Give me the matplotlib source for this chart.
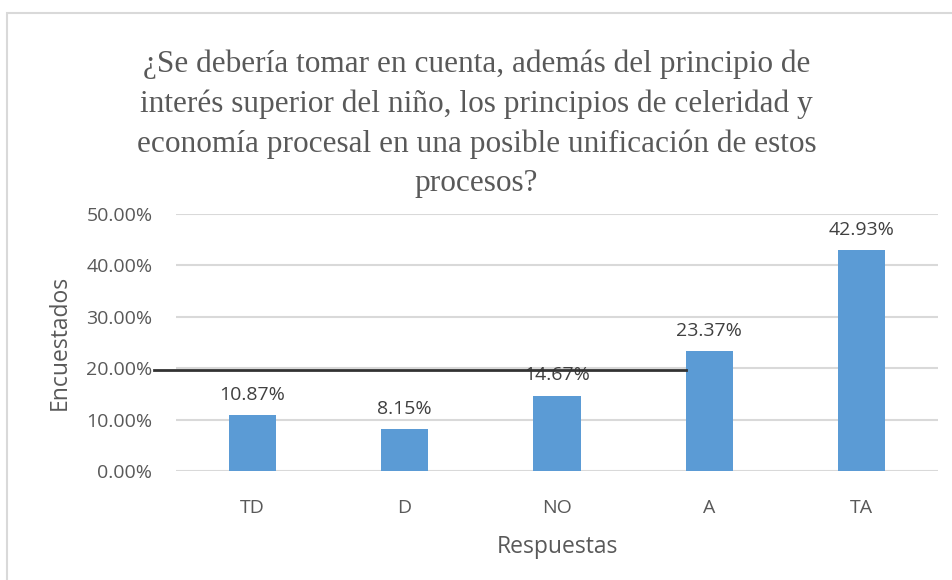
import matplotlib.pyplot as plt
from matplotlib.patches import Rectangle

# datos de la encuesta
categorias = ['TD', 'D', 'NO', 'A', 'TA']
porcentajes = [10.87, 8.15, 14.67, 23.37, 42.93]
ticks_y = [0, 10, 20, 30, 40, 50]

titulo = ('¿Se debería tomar en cuenta, además del principio de\n'
          'interés superior del niño, los principios de celeridad y\n'
          'economía procesal en una posible unificación de estos\n'
          'procesos?')

gris = '#595959'
fuente = 'Open Sans'
fig = plt.figure(figsize=(9.53, 5.80), dpi=100)
ax = fig.add_axes([176/953, 1 - 471/580, (938 - 176)/953, (471 - 214)/580])

x = list(range(len(categorias)))
ax.bar(x, porcentajes, width=0.31, color='#5B9BD5', zorder=3)
for xi, v in zip(x, porcentajes):
    ax.annotate(f'{v:.2f}%', (xi, v), xytext=(0, 8), textcoords='offset points',
                ha='center', va='bottom', fontsize=14, color='#404040',
                family=fuente, zorder=5)

ax.set_xlim(-0.5, len(categorias) - 0.5)
ax.set_ylim(0, 50)
ax.set_yticks(ticks_y)
ax.set_yticklabels([f'{t:.2f}%' for t in ticks_y], fontsize=14, color=gris, family=fuente)
ax.set_xticks(x)
ax.set_xticklabels(categorias, fontsize=14, color=gris, family=fuente)
ax.tick_params(axis='y', length=0, pad=17)
ax.tick_params(axis='x', length=0, pad=20)
ax.grid(axis='y', color='#d9d9d9', linewidth=1.5, zorder=0)
for s in ax.spines.values():
    s.set_visible(False)

ax.set_xlabel('Respuestas', fontsize=16.5, color=gris, family=fuente, labelpad=13)
ax.set_ylabel('Encuestados', fontsize=16.5, color=gris, family=fuente, labelpad=10)

fig.text(0.5, 1 - 124/580, titulo, ha='center', va='center', fontsize=22.5,
         family='Liberation Serif', color=gris, linespacing=1.47)

# linea negra suelta que cruza el grafico
ax.plot([-0.645, 2.845], [19.6, 19.6], color='#333333', linewidth=2, zorder=6, clip_on=False)

# borde del grafico
fig.patches.append(Rectangle((7/953, -0.05), 1.0, 1 - 13/580 + 0.05, transform=fig.transFigure,
                             fill=False, edgecolor='#d9d9d9', linewidth=1.5))

fig.savefig('out.png', dpi=100)
